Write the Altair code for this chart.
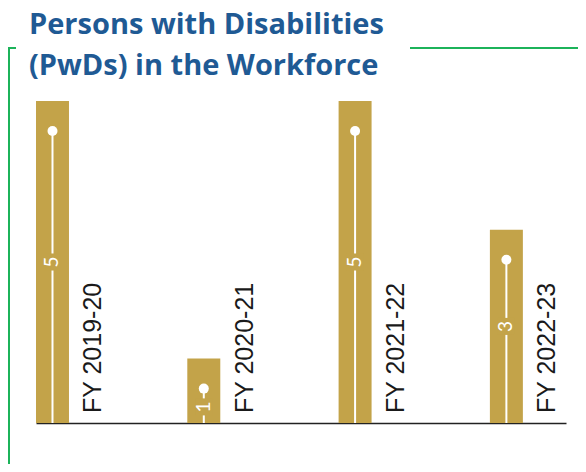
import altair as alt
import pandas as pd

years = ["FY 2019-20", "FY 2020-21", "FY 2021-22", "FY 2022-23"]
values = [5, 1, 5, 3]
title_lines = ["Persons with Disabilities", "(PwDs) in the Workforce"]

GOLD = "#c3a349"
GREEN = "#1cb35a"
BLUE = "#1f5a94"

df = pd.DataFrame({"year": years, "value": values})

x = alt.X("year:N", sort=years, title=None,
          scale=alt.Scale(paddingInner=0.782, paddingOuter=0.1425, align=0),
          axis=alt.Axis(labels=False, ticks=False, domain=True, domainColor="#222222",
                        domainWidth=1.5, grid=False))
y = alt.Y("value:Q", title=None, scale=alt.Scale(domain=[0, 5], nice=False), axis=None)

base = alt.Chart(df).encode(x=x)

bars = base.mark_bar(color=GOLD).encode(y=y)

stem = base.mark_rule(color="white", strokeWidth=2, yOffset=30).encode(
    y=y, y2=alt.datum(0))

dot = base.mark_point(filled=True, color="white", opacity=1, size=100, yOffset=30).encode(y=y)

labeled = base.transform_calculate(lab="min(datum.value/2, datum.value-0.75)")

gap = labeled.mark_point(shape="square", filled=True, color=GOLD, opacity=1, size=290).encode(
    y=alt.Y("lab:Q", scale=alt.Scale(domain=[0, 5], nice=False), axis=None))

vlabel = labeled.mark_text(color="white", font="Lato", fontSize=19, angle=270,
                           align="center", baseline="middle").encode(
    y=alt.Y("lab:Q", scale=alt.Scale(domain=[0, 5], nice=False), axis=None),
    text=alt.Text("value:Q"))

ylabel = base.mark_text(color="#1a1a1a", font="Liberation Sans", fontSize=25, angle=270,
                        align="left", baseline="middle", dx=10, dy=41).encode(
    y=alt.datum(0), text="year:N")

vline = alt.Chart(df).mark_rule(color=GREEN, strokeWidth=2).encode(
    x=alt.value(-27), y=alt.value(-53), y2=alt.value(363))
htick = alt.Chart(df).mark_rule(color=GREEN, strokeWidth=2).encode(
    x=alt.value(-28), x2=alt.value(-20), y=alt.value(-53))
hline = alt.Chart(df).mark_rule(color=GREEN, strokeWidth=2).encode(
    x=alt.value(374), x2=alt.value(542), y=alt.value(-53))

chart = alt.layer(bars, stem, dot, gap, vlabel, ylabel, vline, htick, hline).properties(
    width=530, height=322,
    title=alt.TitleParams(text=title_lines, anchor="start", frame="group", font="Open Sans",
                          fontSize=29, fontWeight="bold", color=BLUE, dx=-7, dy=54,
                          offset=20, lineHeight=41),
    autosize=alt.AutoSizeParams(type="none"),
    padding={"left": 28, "top": 93, "right": 12, "bottom": 41},
).configure_view(stroke=None)

chart.save("out.html", embed_options={"renderer": "svg", "actions": False})
